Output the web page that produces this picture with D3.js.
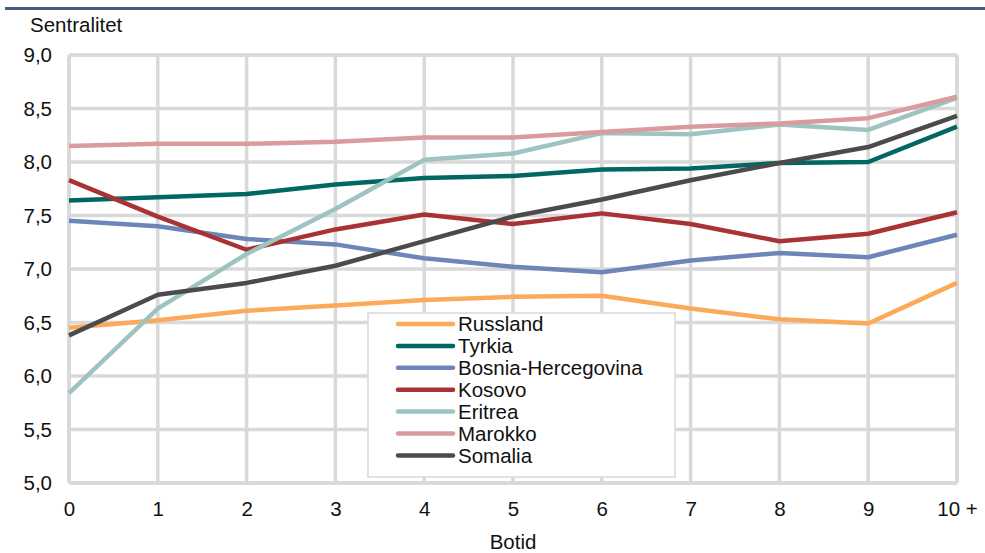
<!DOCTYPE html>
<html>
<head>
  <meta charset="UTF-8">
  <title>Sentralitet etter botid</title>
  <script src="https://d3js.org/d3.v7.min.js"></script>
  <style>
    body { margin: 0; background: #fff; }
    text { font-family: "Liberation Sans", Arial, sans-serif; fill: #111; }
  </style>
</head>
<body>
  <div id="chart"></div>
  <script>
    // botid (years of residence)
    const botid = ["0", "1", "2", "3", "4", "5", "6", "7", "8", "9", "10 +"];
    const yTicks = [5.0, 5.5, 6.0, 6.5, 7.0, 7.5, 8.0, 8.5, 9.0];

    const russland = [6.45, 6.52, 6.61, 6.66, 6.71, 6.74, 6.75, 6.63, 6.53, 6.49, 6.87];
    const tyrkia = [7.64, 7.67, 7.70, 7.79, 7.85, 7.87, 7.93, 7.94, 7.99, 8.00, 8.33];
    const bosnia = [7.45, 7.40, 7.28, 7.23, 7.10, 7.02, 6.97, 7.08, 7.15, 7.11, 7.32];
    const kosovo = [7.83, 7.49, 7.18, 7.37, 7.51, 7.42, 7.52, 7.42, 7.26, 7.33, 7.53];
    const eritrea = [5.84, 6.63, 7.14, 7.56, 8.02, 8.08, 8.27, 8.26, 8.35, 8.30, 8.60];
    const marokko = [8.15, 8.17, 8.17, 8.19, 8.23, 8.23, 8.28, 8.33, 8.36, 8.41, 8.61];
    const somalia = [6.38, 6.76, 6.87, 7.03, 7.26, 7.49, 7.65, 7.83, 7.99, 8.14, 8.43];

    const series = [
      { name: "Russland", values: russland, color: "#fcaa5a" },
      { name: "Tyrkia", values: tyrkia, color: "#016762" },
      { name: "Bosnia-Hercegovina", values: bosnia, color: "#6c86b7" },
      { name: "Kosovo", values: kosovo, color: "#a83234" },
      { name: "Eritrea", values: eritrea, color: "#9dc4c1" },
      { name: "Marokko", values: marokko, color: "#d99b9d" },
      { name: "Somalia", values: somalia, color: "#4b4b4b" }
    ];

    const W = 985, H = 553;
    const margin = { top: 55, right: 28, bottom: 70, left: 69 };
    const width = W - margin.left - margin.right;
    const height = H - margin.top - margin.bottom;
    const gridColor = "#d9d9d9";
    const fs = "20.5px";

    const svg = d3.select("#chart")
      .append("svg")
      .attr("width", W)
      .attr("height", H);

    // header rule (title is cropped above the picture)
    svg.append("rect")
      .attr("x", 5).attr("y", 7)
      .attr("width", W - 5).attr("height", 3)
      .attr("fill", "#445a84");

    const g = svg.append("g")
      .attr("transform", "translate(" + margin.left + "," + margin.top + ")");

    const x = d3.scalePoint()
      .domain(botid)
      .range([0, width]);

    const y = d3.scaleLinear()
      .domain([5, 9])
      .range([height, 0]);

    // grid
    g.selectAll(".hgrid")
      .data(yTicks)
      .enter()
      .append("line")
      .attr("x1", 0).attr("x2", width)
      .attr("y1", d => y(d)).attr("y2", d => y(d))
      .attr("stroke", gridColor)
      .attr("stroke-width", 3.5);

    g.selectAll(".vgrid")
      .data(botid)
      .enter()
      .append("line")
      .attr("x1", d => x(d)).attr("x2", d => x(d))
      .attr("y1", 0).attr("y2", height)
      .attr("stroke", gridColor)
      .attr("stroke-width", 3.5);

    g.append("rect")
      .attr("x", 0).attr("y", 0)
      .attr("width", width).attr("height", height)
      .attr("rx", 3)
      .attr("fill", "none")
      .attr("stroke", gridColor)
      .attr("stroke-width", 3.5);

    // axes (labels only)
    const yAxis = g.append("g")
      .call(d3.axisLeft(y).tickValues(yTicks).tickSize(0).tickPadding(17)
        .tickFormat(d => d3.format(".1f")(d).replace(".", ",")));
    yAxis.select(".domain").remove();
    yAxis.selectAll("text")
      .style("font-size", fs)
      .style("font-family", "Liberation Sans, Arial, sans-serif")
      .attr("fill", "#111");

    const xAxis = g.append("g")
      .attr("transform", "translate(0," + height + ")")
      .call(d3.axisBottom(x).tickSize(0).tickPadding(18));
    xAxis.select(".domain").remove();
    xAxis.selectAll("text")
      .style("font-size", fs)
      .style("font-family", "Liberation Sans, Arial, sans-serif")
      .attr("fill", "#111");

    // lines
    const line = d3.line()
      .x((d, i) => x(botid[i]))
      .y(d => y(d));

    g.selectAll(".series")
      .data(series)
      .enter()
      .append("path")
      .attr("d", d => line(d.values))
      .attr("fill", "none")
      .attr("stroke", d => d.color)
      .attr("stroke-width", 4.5)
      .attr("stroke-linejoin", "round");

    // axis titles
    svg.append("text")
      .attr("x", 30).attr("y", 32)
      .style("font-size", fs)
      .text("Sentralitet");

    svg.append("text")
      .attr("x", margin.left + width / 2).attr("y", 549)
      .attr("text-anchor", "middle")
      .style("font-size", fs)
      .text("Botid");

    // legend
    const legend = svg.append("g").attr("transform", "translate(368,313)");
    legend.append("rect")
      .attr("width", 307).attr("height", 164)
      .attr("fill", "#fff")
      .attr("stroke", gridColor)
      .attr("stroke-width", 1.5);

    const rows = legend.selectAll(".row")
      .data(series)
      .enter()
      .append("g")
      .attr("transform", (d, i) => "translate(0," + (11 + i * 21.9) + ")");

    rows.append("line")
      .attr("x1", 30).attr("x2", 85)
      .attr("stroke", d => d.color)
      .attr("stroke-width", 4.5)
      .attr("stroke-linecap", "round");

    rows.append("text")
      .attr("x", 90)
      .attr("dy", "0.35em")
      .style("font-size", fs)
      .text(d => d.name);
  </script>
</body>
</html>
